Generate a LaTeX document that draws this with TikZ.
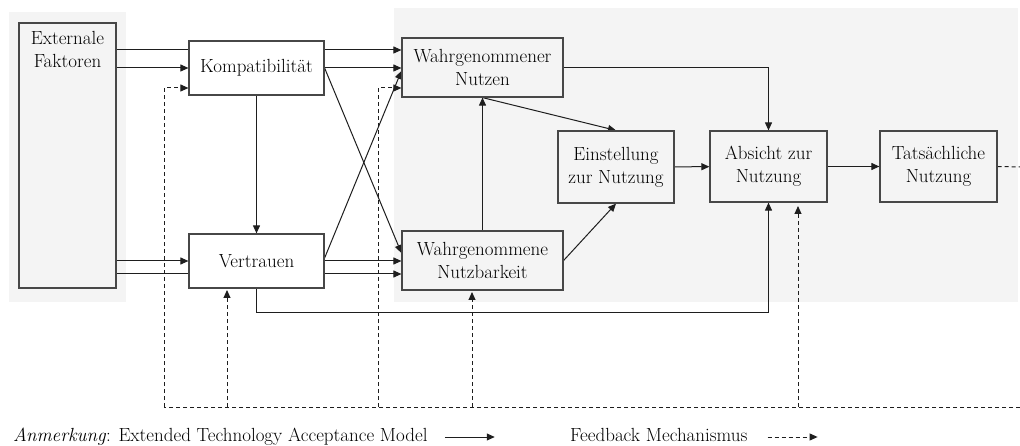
\documentclass[tikz,border=0pt]{standalone}
\usetikzlibrary{arrows.meta, calc}
\definecolor{tambg}{HTML}{F4F4F4}
\definecolor{tamline}{HTML}{1E1E1E}
\definecolor{tamborder}{HTML}{474747}
\pgfdeclarelayer{bg}
\pgfdeclarelayer{edges}
\pgfsetlayers{bg,edges,main}

\begin{document}
\begin{tikzpicture}[
  x=1pt, y=-1pt,
  every node/.style={font=\fontsize{19}{23}\selectfont},
  whitebox/.style={rectangle, draw=tamborder, fill=white, line width=1.2pt, align=center, inner sep=2pt},
  graybox/.style={whitebox, fill=tambg},
  arr/.style={-{Triangle[length=8pt, width=7pt]}, draw=tamline, line width=1pt},
  fbarr/.style={arr, dash pattern=on 4pt off 3pt},
  fbline/.style={draw=tamline, line width=1pt, dash pattern=on 4pt off 3pt},
]
\useasboundingbox (0,0) rectangle (1020,446);

\begin{pgfonlayer}{bg}
\fill[tambg] (9,12) rectangle (126,302);
\fill[tambg] (394,8) rectangle (1018,302);
\end{pgfonlayer}

\node[graybox, minimum width=97pt, minimum height=265pt] (ext) at (67.5,155.5) {};
\node[anchor=north, align=center, inner sep=0pt] (extlbl) at ([yshift=-9pt]ext.north) {Externale\\Faktoren};
\node[whitebox, minimum width=135pt, minimum height=54pt] (kompat) at (256.5,68) {Kompatibilität};
\node[whitebox, minimum width=135pt, minimum height=54pt] (vertrauen) at (256.5,261) {Vertrauen};
\node[graybox, minimum width=161pt, minimum height=59pt] (wn) at (482.5,67.5) {Wahrgenommener\\Nutzen};
\node[graybox, minimum width=161pt, minimum height=59pt] (wnb) at (482.5,260.5) {Wahrgenommene\\Nutzbarkeit};
\node[graybox, minimum width=116pt, minimum height=72pt] (einst) at (616,167) {Einstellung\\zur Nutzung};
\node[graybox, minimum width=117pt, minimum height=71pt] (absicht) at (768.5,166.5) {Absicht zur\\Nutzung};
\node[graybox, minimum width=117pt, minimum height=71pt] (tat) at (938.5,166.5) {Tatsächliche\\Nutzung};

% feedback loop points
\coordinate (fbK) at (164,407);
\coordinate (fbV) at (227,407);
\coordinate (fbN) at (378,407);
\coordinate (fbB) at (472,407);
\coordinate (fbA) at (798,407);
\coordinate (fbE) at (1020,407);
\coordinate (fbT) at (1020,167);

\begin{pgfonlayer}{edges}
\draw[arr] (ext.east |- 0,50) -- (wn.west |- 0,50);
\draw[arr] (ext.east |- kompat.west) -- (kompat.west);
\draw[arr] (kompat.east) -- (kompat.east -| wn.west);
\draw[arr] (kompat.east) -- (wnb.west |- 0,253);
\draw[arr] (vertrauen.east |- 0,258) -- (wn.west |- 0,71);
\draw[arr] (ext.east |- vertrauen.west) -- (vertrauen.west);
\draw[arr] (ext.east |- 0,274) -- (wnb.west |- 0,274);
\draw[arr] (vertrauen.east) -- (vertrauen.east -| wnb.west);
\draw[arr] (kompat) -- (vertrauen);
\draw[arr] (wnb) -- (wn);
\draw[arr] (wn.south) -- (einst.north);
\draw[arr] (wnb.east) -- (einst.south);
\draw[arr] (einst) -- (absicht);
\draw[arr] (wn.east) -| (absicht.north);
\draw[arr] (absicht) -- (tat);
\draw[arr] (vertrauen.south) -- ++(0,24) -| (absicht.south);

\draw[fbline] (tat.east) -- (fbT);
\draw[fbline] (fbE) -- (fbK);
\draw[fbarr] (fbK) |- (kompat.west |- 0,88);
\draw[fbarr] (fbV) -- (fbV |- 0,290);
\draw[fbarr] (fbN) |- (wn.west |- 0,88);
\draw[fbarr] (fbB) -- (fbB |- 0,292);
\draw[fbarr] (fbA) -- (fbA |- 0,206);
\end{pgfonlayer}

\node[anchor=base west, inner sep=0pt] (note) at (13,441) {\textit{Anmerkung}: Extended Technology Acceptance Model};
\draw[arr] ([xshift=17pt, yshift=4pt]note.base east) -- ++(50,0);
\node[anchor=base west, inner sep=0pt] (fbnote) at (570,441) {Feedback Mechanismus};
\draw[fbarr] ([xshift=20pt, yshift=4pt]fbnote.base east) -- ++(50,0);
\end{tikzpicture}
\end{document}
